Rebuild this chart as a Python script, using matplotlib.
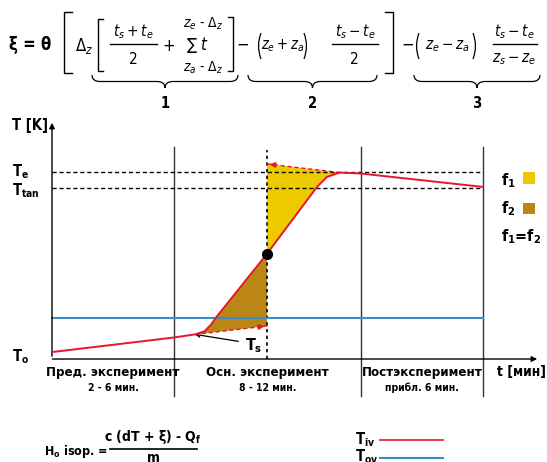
import numpy as np
import matplotlib.pyplot as plt
from matplotlib.path import Path
from matplotlib.patches import PathPatch, Rectangle, Polygon

W, H = 547, 462

plt.rcParams['font.family'] = ['DejaVu Sans']
plt.rcParams['font.stretch'] = 'condensed'
plt.rcParams['mathtext.fontset'] = 'custom'
plt.rcParams['mathtext.rm'] = 'DejaVu Sans:stretch=condensed'
plt.rcParams['mathtext.it'] = 'DejaVu Sans:italic:stretch=condensed'
plt.rcParams['mathtext.bf'] = 'DejaVu Sans:bold:stretch=condensed'

red = '#e5172d'
blue = '#3a8cc4'
yellow = '#edc900'
brown = '#ba8616'

# --- data (time in min, temperature in K, relative) ---
phase_edges = [0, 5.0, 12.66, 17.66]
phase_names = ['Пред. эксперимент', 'Осн. эксперимент', 'Постэксперимент']
phase_notes = ['2 - 6 мин.', '8 - 12 мин.', 'прибл. 6 мин.']

t_iv = [0, 5.0, 5.86, 6.25, 6.5, 6.74, 8.81, 10.86, 11.27, 11.8, 12.66, 17.66]
T_iv = [0.29, 0.90, 1.03, 1.16, 1.42, 1.76, 4.40, 7.20, 7.62, 7.80, 7.76, 7.20]
T_ov = 1.72
T_e = 7.82
T_tan = 7.15
t_s = 8.81
i_start, i_mid, i_peak = 2, 6, 9     # curve points: start of rise, crossing, peak
T_low_end = 1.38                     # lower extrapolation at t_s
T_up_end = 8.16                      # upper extrapolation at t_s

fig = plt.figure(figsize=(W / 100, H / 100), dpi=100)
ax = fig.add_axes([0, 62 / H, 1, 290 / H])
ax.set_xlim(-2.131, 20.287)
ax.set_ylim(-1.715, 10.418)
ax.axis('off')

t = np.array(t_iv)
T = np.array(T_iv)

# shaded areas
f2 = list(zip(t[i_start:i_mid + 1], T[i_start:i_mid + 1])) + [(t_s, T_low_end)]
f1 = list(zip(t[i_mid:i_peak + 1], T[i_mid:i_peak + 1])) + [(t_s, T_up_end)]
ax.add_patch(Polygon(f2, closed=True, fc=brown, ec='none', zorder=1))
ax.add_patch(Polygon(f1, closed=True, fc=yellow, ec='none', zorder=1))

# phase dividers
for x in phase_edges[1:]:
    ax.plot([x, x], [-1.55, 8.87], color='#333333', lw=1.0, clip_on=False, zorder=2)

# dashed guides
ax.plot([0, phase_edges[-1]], [T_e, T_e], color='k', lw=1.0, ls=(0, (3, 2)), zorder=2)
ax.plot([0, phase_edges[-1]], [T_tan, T_tan], color='k', lw=1.0, ls=(0, (3, 2)), zorder=2)
ax.plot([t_s, t_s], [0, 8.74], color='k', lw=1.2, ls=(0, (2, 2)), zorder=3)

ax.plot([0, phase_edges[-1]], [T_ov, T_ov], color=blue, lw=1.5, zorder=3)

# extrapolation arrows
for (x0, y0), (x1, y1) in [((t[i_start], T[i_start]), (t_s, T_low_end)),
                           ((t[i_peak], T[i_peak]), (t_s, T_up_end))]:
    ax.plot([x0, x1], [y0, y1], color=red, lw=1.0, ls=(0, (3, 2)), zorder=4)
    ax.annotate('', xy=(x1, y1), xytext=(x1 - 0.25 * np.sign(x1 - x0), y1 - 0.25 * (y1 - y0) / abs(x1 - x0)),
                arrowprops=dict(arrowstyle='-|>', color=red, lw=1.0, mutation_scale=8), zorder=4)

ax.plot(t, T, color=red, lw=1.4, zorder=5)
ax.plot([t_s], [T[i_mid]], 'o', color='k', ms=7, zorder=6)

# axes arrows
ax.annotate('', xy=(0, 10.0), xytext=(0, 0), arrowprops=dict(arrowstyle='-|>', color='k', lw=1.0, mutation_scale=8))
ax.annotate('', xy=(20.0, 0), xytext=(-0.1, 0), arrowprops=dict(arrowstyle='-|>', color='k', lw=1.0, mutation_scale=8))

# Ts pointer
ax.annotate('', xy=(5.74, 1.05), xytext=(7.75, 0.72),
            arrowprops=dict(arrowstyle='->', color='k', lw=0.9, mutation_scale=7))
ax.text(7.9, 0.55, r'T$_\mathregular{s}$', fontsize=11.5, fontweight='bold', ha='left', va='center')

# axis labels
lab = dict(fontsize=10.5, fontweight='bold', va='center', ha='left')
ax.text(-1.64, 9.75, 'T [K]', **lab)
ax.text(-1.64, T_e, r'T$_\mathregular{e}$', **lab)
ax.text(-1.64, T_tan - 0.1, r'T$_\mathregular{tan}$', **lab)
ax.text(-1.64, 0.08, r'T$_\mathregular{o}$', **lab)
ax.text(18.22, -0.56, 't [мин]', fontsize=10, fontweight='bold', va='center', ha='left')

for a, b, n1, n2 in zip(phase_edges[:-1], phase_edges[1:], phase_names, phase_notes):
    ax.text((a + b) / 2, -0.58, n1, fontsize=9.5, fontweight='bold', ha='center', va='center')
    ax.text((a + b) / 2, -1.2, n2, fontsize=7.5, fontweight='bold', ha='center', va='center')

# --- overlay in pixel coords for formulas / legends ---
ov = fig.add_axes([0, 0, 1, 1])
ov.set_xlim(0, W)
ov.set_ylim(H, 0)
ov.axis('off')


def tx(x, y, s, size=11, ha='center', **kw):
    ov.text(x, y, s, fontsize=size, ha=ha, va='center', **kw)


def bracket(x, y0, y1, d):
    ov.plot([x + d, x, x, x + d], [y0, y0, y1, y1], color='k', lw=1.0)


def paren(x0, x1, y0, y1):
    # thin round brackets drawn as arcs
    ym = (y0 + y1) / 2
    for xe, s in [(x0, 1), (x1, -1)]:
        verts = [(xe + 3 * s, y0), (xe - 2 * s, ym), (xe + 3 * s, y1)]
        ov.add_patch(PathPatch(Path(verts, [Path.MOVETO, Path.CURVE3, Path.CURVE3]),
                               fc='none', ec='k', lw=0.9))


def brace(x0, x1, y0, h=13, r=8):
    xm, ym = (x0 + x1) / 2, y0 + h / 2
    verts = [(x0, y0), (x0, ym), (x0 + r, ym), (xm - r, ym), (xm, ym), (xm, y0 + h),
             (xm, ym), (xm + r, ym), (x1 - r, ym), (x1, ym), (x1, y0)]
    codes = [Path.MOVETO, Path.CURVE3, Path.CURVE3, Path.LINETO, Path.CURVE3, Path.CURVE3,
             Path.CURVE3, Path.CURVE3, Path.LINETO, Path.CURVE3, Path.CURVE3]
    ov.add_patch(PathPatch(Path(verts, codes), fc='none', ec='k', lw=0.9))


tx(9, 45, 'ξ = θ', size=12, ha='left', fontweight='bold')
bracket(64, 12, 73, 8)
bracket(393, 12, 73, -8)
tx(84, 46, r'$\Delta_z$', size=12)
bracket(98, 19, 71, 5)
bracket(233, 17, 71, -5)
tx(133, 32, r'$t_s + t_e$')
ov.plot([110, 157], [44, 44], color='k', lw=1.0)
tx(133, 59, r'$\mathit{2}$')
tx(169, 46, '+', size=12)
tx(203, 24, r'$z_e$ - $\Delta_z$', size=10)
tx(198, 45, r'$\sum\ t$', size=12)
tx(203, 68, r'$z_a$ - $\Delta_z$', size=10)
tx(243, 45, '−', size=12)
paren(258, 307, 33, 59)
tx(283, 46, r'$z_e + z_a$', size=10.5)
tx(355, 32, r'$t_s - t_e$')
ov.plot([332, 378], [44, 44], color='k', lw=1.0)
tx(354, 59, r'$\mathit{2}$')
tx(408, 45, '−', size=12)
paren(416, 476, 33, 59)
tx(447, 46, r'$z_e - z_a$')
tx(514, 32, r'$t_s - t_e$')
ov.plot([493, 537], [44, 44], color='k', lw=1.0)
tx(514, 59, r'$z_s - z_e$')

for x0, x1, n in [(92, 238, '1'), (248, 377, '2'), (414, 540, '3')]:
    brace(x0, x1, 75)
    tx((x0 + x1) / 2, 103, n, size=10.5, fontweight='bold')

# f1 / f2 legend
tx(501, 181, r'f$_\mathregular{1}$', size=11.5, ha='left', fontweight='bold')
ov.add_patch(Rectangle((523, 172), 12, 12, fc=yellow, ec='none'))
tx(501, 209, r'f$_\mathregular{2}$', size=11.5, ha='left', fontweight='bold')
ov.add_patch(Rectangle((523, 203), 12, 11, fc=brown, ec='none'))
tx(501, 237, r'f$_\mathregular{1}$=f$_\mathregular{2}$', size=11.5, ha='left', fontweight='bold')

# bottom formula
tx(108, 452, r'H$_\mathregular{o}$ isop. =', size=9, ha='right', fontweight='bold')
tx(153, 437, r'c (dT + ξ) - Q$_\mathregular{f}$', size=10, fontweight='bold')
ov.plot([110, 197], [449, 449], color='k', lw=1.2)
tx(153, 458, 'm', size=10, fontweight='bold')

# line legend
tx(355, 440, r'T$_\mathregular{iv}$', size=10.5, ha='left', fontweight='bold')
ov.plot([380, 443], [440, 440], color=red, lw=1.2)
tx(355, 457, r'T$_\mathregular{ov}$', size=10.5, ha='left', fontweight='bold')
ov.plot([380, 443], [458, 458], color=blue, lw=1.5)

fig.savefig('out.png', dpi=100)
